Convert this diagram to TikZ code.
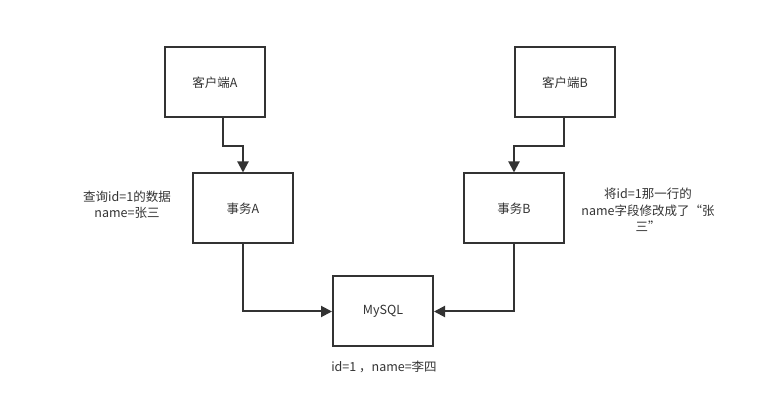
\documentclass[tikz,border=0pt]{standalone}
\usepackage{fontspec}
\setmainfont{Noto Sans CJK SC}
\usetikzlibrary{arrows.meta}
\definecolor{ln}{HTML}{333333}
\tikzset{
  x=1pt,y=-1pt,
  box/.style={draw=ln,line width=2pt,minimum width=100pt,minimum height=70pt,inner sep=0pt,font=\fontsize{12.5}{14}\selectfont,text=ln},
  conn/.style={draw=ln,line width=2pt,-{Triangle[length=11pt,width=11pt]}},
  lbl/.style={font=\fontsize{12.5}{16.5}\selectfont,text=ln,align=center,inner sep=0pt}
}
\begin{document}
\begin{tikzpicture}
\useasboundingbox (0,0) rectangle (761,419);
\node[box] (ca) at (215,82.5) {客户端A};
\node[box] (cb) at (565,82.5) {客户端B};
\node[box] (ta) at (243,208.5) {事务A};
\node[box] (tb) at (514,208.5) {事务B};
\node[box] (db) at (383,311.5) {MySQL};
\coordinate (ca1) at (222.7,146);
\coordinate (cb1) at (564.3,146);
\draw[conn] (ca.south -| ca1) -- (ca1) -| (ta.north);
\draw[conn] (cb.south -| cb1) -- (cb1) -| (tb.north);
\draw[conn] (ta.south) |- (db.west);
\draw[conn] (tb.south) |- (db.east);
\node[lbl] (la) at (127,205) {查询id=1的数据\\name=张三};
\node[lbl] (lb) at (648,210) {将id=1那一行的\\name字段修改成了“张\\三”};
\node[lbl] (ld) at (384,367) {id=1 ，name=李四};
\end{tikzpicture}
\end{document}
